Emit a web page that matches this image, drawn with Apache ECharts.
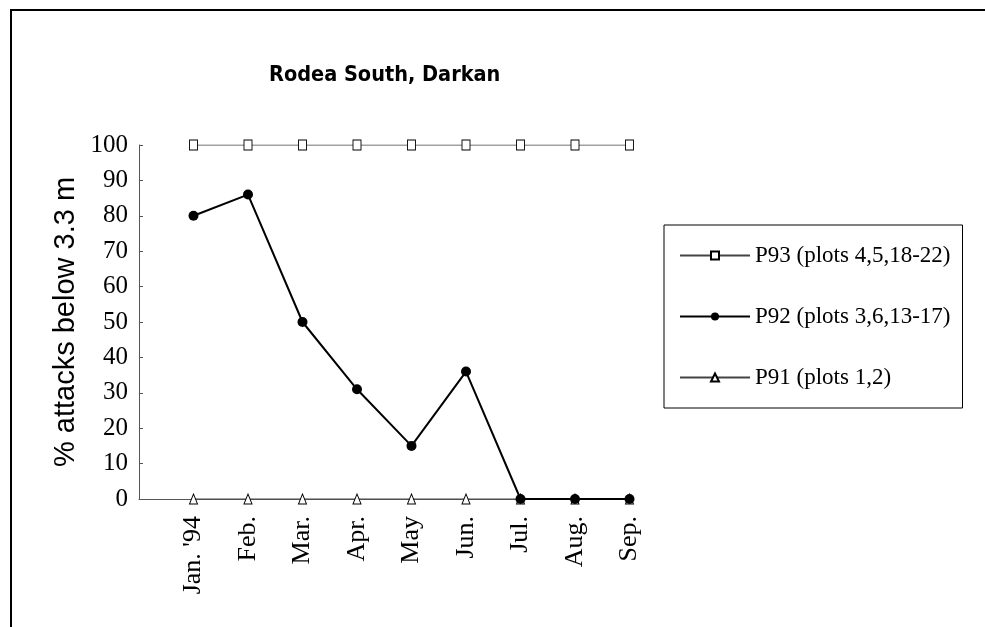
<!DOCTYPE html>
<html>
<head>
<meta charset="utf-8">
<script src="https://cdn.jsdelivr.net/npm/echarts@6/dist/echarts.min.js"></script>
<style>
  html, body { margin: 0; padding: 0; background: #fff; }
  #chart { width: 985px; height: 627px; }
</style>
</head>
<body>
<div id="chart"></div>
<script>
// Monthly share of attacks below 3.3 m, Rodea South (Darkan)
const months = ["Jan. '94", "Feb.", "Mar.", "Apr.", "May", "Jun.", "Jul.", "Aug.", "Sep."];
const p93 = [100, 100, 100, 100, 100, 100, 100, 100, 100];
const p92 = [80, 86, 50, 31, 15, 36, 0, 0, 0];
const p91 = [0, 0, 0, 0, 0, 0, 0, 0, 0];
const yTicks = [0, 10, 20, 30, 40, 50, 60, 70, 80, 90, 100];

// months sit at positions 1..9 on the x scale, position 0 is the y axis
const pts = arr => arr.map((v, i) => [i + 1, v]);

const serif = 'Liberation Serif';
const chart = echarts.init(document.getElementById('chart'), null, { renderer: 'canvas' });

chart.setOption({
  backgroundColor: '#fff',
  animation: false,
  title: {
    text: 'Rodea South, Darkan',
    left: 264,
    top: 59,
    textStyle: {
      fontFamily: '"DejaVu Sans Condensed", "Liberation Sans", sans-serif',
      fontWeight: 'bold',
      fontSize: 21.5,
      color: '#000'
    }
  },
  graphic: [{
    type: 'rect',
    shape: { x: 11, y: 10, width: 1100, height: 800 },
    style: { fill: 'none', stroke: '#000', lineWidth: 2 },
    silent: true
  }],
  grid: { left: 139, top: 145, right: 355.5, bottom: 128, containLabel: false },
  legend: {
    orient: 'vertical',
    left: 664,
    top: 225,
    padding: [19, 12, 19, 15],
    itemGap: 38,
    itemWidth: 70,
    itemHeight: 10,
    borderColor: '#000',
    borderWidth: 1,
    textStyle: { fontFamily: serif, fontSize: 23, color: '#000' },
    data: ['P93 (plots 4,5,18-22)', 'P92 (plots 3,6,13-17)', 'P91 (plots 1,2)']
  },
  xAxis: {
    type: 'value',
    min: 0,
    max: months.length,
    interval: 1,
    axisLine: { show: true, lineStyle: { color: '#555', width: 1 } },
    axisTick: { show: false },
    splitLine: { show: false },
    axisLabel: {
      rotate: 90,
      margin: 17,
      fontFamily: serif,
      fontSize: 26,
      color: '#000',
      formatter: v => (v >= 1 && v <= months.length) ? months[v - 1] : ''
    }
  },
  yAxis: {
    type: 'value',
    min: yTicks[0],
    max: yTicks[yTicks.length - 1],
    interval: 10,
    name: '% attacks below 3.3 m',
    nameLocation: 'middle',
    nameGap: 59,
    nameTextStyle: { fontFamily: 'Liberation Sans', fontSize: 29, color: '#000' },
    axisLine: { show: true, lineStyle: { color: '#555', width: 1 } },
    axisTick: { show: true, inside: true, length: 4, lineStyle: { color: '#555' } },
    splitLine: { show: false },
    axisLabel: {
      margin: 11,
      fontFamily: serif,
      fontSize: 25,
      color: '#000'
    }
  },
  series: [
    {
      name: 'P93 (plots 4,5,18-22)',
      type: 'line',
      data: pts(p93),
      symbol: 'rect',
      symbolSize: [8, 10],
      showAllSymbol: true,
      lineStyle: { color: '#444', width: 1 },
      itemStyle: { color: '#fff', borderColor: '#000', borderWidth: 1 },
      z: 3
    },
    {
      name: 'P92 (plots 3,6,13-17)',
      type: 'line',
      data: pts(p92),
      symbol: 'circle',
      symbolSize: 10,
      showAllSymbol: true,
      lineStyle: { color: '#000', width: 2 },
      itemStyle: { color: '#000', borderColor: '#000', borderWidth: 0 },
      z: 4
    },
    {
      name: 'P91 (plots 1,2)',
      type: 'line',
      data: pts(p91),
      symbol: 'triangle',
      symbolSize: [8, 10],
      showAllSymbol: true,
      lineStyle: { color: '#444', width: 1 },
      itemStyle: { color: '#fff', borderColor: '#000', borderWidth: 1 },
      z: 3
    }
  ]
});
</script>
</body>
</html>
